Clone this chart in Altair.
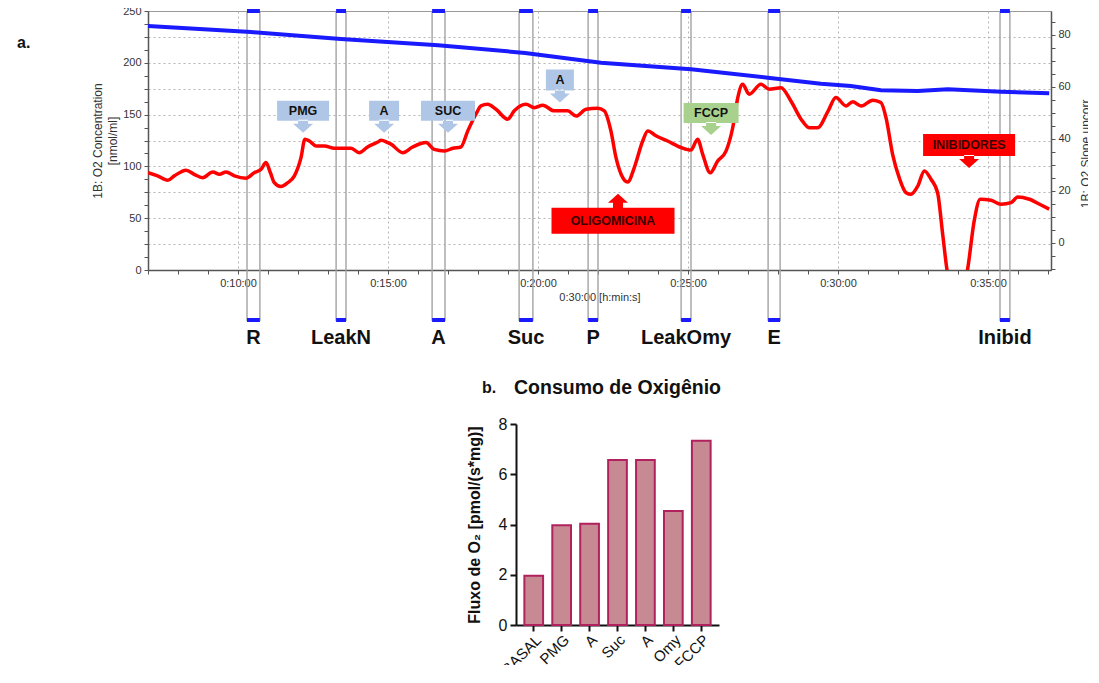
import altair as alt
import pandas as pd

# ---------------- data (panel a) ----------------
# O2 slope trace (red, right axis) : time in minutes, value in pmol/(s*ml)
red_t = [7.0, 7.32, 7.66, 7.88, 8.27, 8.54, 8.82, 9.16, 9.38, 9.6, 9.88, 10.27, 10.54, 10.77,
         10.93, 11.08, 11.21, 11.43, 11.66, 11.88, 12.1, 12.23, 12.38, 12.6, 12.88, 13.21, 13.77,
         14.04, 14.32, 14.66, 14.77, 14.99, 15.1, 15.49, 15.82, 16.27, 16.54, 16.88, 17.16, 17.43,
         17.66, 17.93, 18.1, 18.32, 18.6, 18.99, 19.21, 19.6, 19.88, 20.16, 20.54, 20.99, 21.27,
         21.6, 21.99, 22.21, 22.43, 22.6, 22.77, 22.99, 23.21, 23.49, 23.66, 23.93, 24.32, 24.77,
         25.1, 25.32, 25.49, 25.74, 25.99, 26.27, 26.49, 26.66, 26.82, 27.04, 27.43, 27.71, 28.1,
         28.43, 28.77, 29.04, 29.32, 29.66, 29.93, 30.27, 30.49, 30.77, 31.16, 31.43, 31.6, 31.82,
         32.04, 32.27, 32.43, 32.66, 32.88, 33.1, 33.32, 33.49, 33.63, 33.77, 33.97, 34.17, 34.32,
         34.54, 34.74, 35.1, 35.43, 35.77, 35.99, 36.38, 36.77, 37.04]
red_v = [27.0, 25.8, 24.1, 25.8, 28.0, 26.4, 25.1, 27.3, 26.4, 27.3, 25.8, 24.9, 27.0, 28.3,
         30.9, 27.0, 23.2, 21.7, 23.2, 25.8, 32.8, 39.9, 39.2, 37.3, 37.3, 36.4, 36.4,
         34.7, 36.9, 38.8, 39.5, 38.6, 38.0, 34.7, 36.9, 38.6, 36.0, 35.4, 36.4, 36.9,
         43.1, 49.5, 52.7, 53.3, 51.4, 47.6, 50.8, 53.3, 52.0, 53.0, 50.8, 50.8, 48.8,
         51.4, 51.8, 50.8, 43.1, 32.8, 26.4, 23.4, 29.0, 39.2, 43.1, 41.2, 39.2, 36.7,
         35.7, 39.9, 34.1, 27.0, 31.5, 35.4, 44.3, 55.9, 61.0, 57.2, 61.0, 59.1, 59.7,
         54.6, 47.6, 44.3, 44.3, 50.5, 55.9, 52.7, 54.3, 52.7, 54.9, 54.0, 48.2, 34.1,
         25.1, 19.3, 18.7, 21.9, 27.7, 24.5, 19.3, 3.3, -10.1, -18.0, -22.0, -18.0, -10.1,
         8.5, 16.8, 16.4, 14.9, 15.5, 17.7, 16.8, 14.6, 13.0]

# O2 concentration trace (blue, left axis) : nmol/ml
blue_t = [7.0, 10.43, 13.43, 16.67, 19.57, 22.1, 25.1, 27.66, 29.43, 30.43, 31.43, 32.66, 33.66, 35.43, 37.04]
blue_v = [235.5, 229.7, 223.0, 217.0, 209.5, 200.1, 193.7, 185.6, 179.8, 177.5, 173.5, 172.8, 174.4, 172.1, 170.6]

# event marks (start / end, minutes)
event_labels = ["R", "LeakN", "A", "Suc", "P", "LeakOmy", "E", "Inibid"]
event_start = [10.30, 13.27, 16.47, 19.37, 21.67, 24.77, 27.67, 35.40]
event_end = [10.73, 13.60, 16.90, 19.83, 22.00, 25.10, 28.07, 35.73]

# titration annotations (anchor: time, slope value)
annot_labels = ["PMG", "A", "SUC", "A", "FCCP", "OLIGOMICINA", "INIBIDORES"]
annot_t = [12.17, 14.87, 17.0, 20.73, 25.77, 22.5, 34.37]
annot_v = [50.8, 50.8, 50.8, 62.7, 50.0, 8.5, 37.7]

# ---------------- data (panel b) ----------------
bar_labels = ["BASAL", "PMG", "A", "Suc", "A", "Omy", "FCCP"]
bar_values = [1.96, 3.97, 4.03, 6.57, 6.57, 4.54, 7.33]

# ---------------- styles ----------------
annot_style = [  # (box w, box h, arrow, fill, text colour)
    (52, 20, "down", "#b0c6e6", "#111111"),
    (30, 20, "down", "#b0c6e6", "#111111"),
    (54, 20, "down", "#b0c6e6", "#111111"),
    (28, 21, "down", "#b0c6e6", "#111111"),
    (55, 20, "down", "#a9d18e", "#111111"),
    (123, 26, "up", "#ff0000", "#3a0000"),
    (92, 22, "down", "#ff0000", "#3a0000"),
]


def callout_path(w, h, arrow):
    hw, hh = w / 2, h / 2
    p = f"M{-hw},{-hh}H{hw}V{hh}H{-hw}Z"
    if arrow == "down":
        p += f"M-5,{hh - 1}V{hh + 3}H-10L0,{hh + 12}L10,{hh + 3}H5V{hh - 1}Z"
    else:
        p += f"M0,{-hh + 1}V{-hh - 5}H-5L5,{-hh - 14}L15,{-hh - 5}H10V{-hh + 1}Z"
    return p


FONT = "Liberation Sans"

df_red = pd.DataFrame({"t": red_t, "v": red_v})
df_blue = pd.DataFrame({"t": blue_t, "v": blue_v})
df_ev_lines = pd.DataFrame({"t": event_start + event_end})
df_ev = pd.DataFrame({"t": event_start, "t2": event_end})
df_ev_lab = pd.DataFrame({"t": [(a + b) / 2 for a, b in zip(event_start, event_end)],
                          "label": event_labels})
df_ann = pd.DataFrame({
    "t": annot_t, "v": annot_v, "label": annot_labels,
    "path": [callout_path(s[0], s[1], s[2]) for s in annot_style],
    "fill": [s[3] for s in annot_style],
    "tcolor": [s[4] for s in annot_style],
})

xs = alt.Scale(domain=[7, 37.1], nice=False, zero=False)
x_axis = alt.Axis(
    values=list(range(7, 38)),
    labelExpr="datum.value % 5 === 0 ? '0:' + (datum.value < 10 ? '0' : '') + datum.value + ':00' : ''",
    labelOverlap=False,
    title="0:30:00 [h:min:s]", titleFontSize=11, titleFontWeight="normal", titleColor="#333",
    titlePadding=3,
    labelFontSize=11, labelColor="#333", labelPadding=3,
    tickSize=4, tickColor="#555", domainColor="#555", domainWidth=1.5,
    grid=True, gridColor="#b5b5b5", gridDash=[2, 3],
    gridOpacity={"condition": {"test": "datum.value % 5 === 0", "value": 1}, "value": 0},
)
X = alt.X("t:Q", scale=xs, axis=x_axis)

yl_scale = alt.Scale(domain=[0, 250], nice=False, zero=False)
yl_axis = alt.Axis(
    orient="left", values=[i * 12.5 for i in range(21)],
    labelExpr="datum.value % 50 === 0 ? datum.label : ''", labelOverlap=False,
    title=["1B: O2 Concentration", "[nmol/ml]"], titleFontSize=12, titleFontWeight="normal",
    titleColor="#333", titlePadding=3, titleLineHeight=15,
    labelFontSize=11, labelColor="#333", labelPadding=3,
    tickSize=4, tickColor="#555", domainColor="#555", domainWidth=1.5,
    grid=True, gridColor="#b5b5b5", gridDash=[2, 3],
    gridOpacity={"condition": {"test": "datum.value % 25 === 0 && datum.value > 0 && datum.value < 250",
                               "value": 1}, "value": 0},
)
yr_scale = alt.Scale(domain=[-10.4, 89.2], nice=False, zero=False)
yr_axis = alt.Axis(
    orient="right", values=list(range(-10, 90, 5)),
    labelExpr="datum.value % 20 === 0 ? datum.label : ''", labelOverlap=False,
    title=["1B: O2 Slope uncorr.", "[pmol/(s*ml)]"], titleFontSize=12, titleFontWeight="normal",
    titleColor="#333", titleAngle=270, titleBaseline="top", titleLineHeight=15,
    titleX=29, titleY=141,
    labelFontSize=11, labelColor="#333", labelPadding=3,
    tickSize=4, tickColor="#555", domainColor="#555", domainWidth=1.5, grid=False,
)

ev_lines = alt.Chart(df_ev_lines).mark_rule(color="#a3a3a3", strokeWidth=1.4).encode(
    x=X, y=alt.value(0), y2=alt.value(310))
ev_top = alt.Chart(df_ev).mark_rule(color="#1a1aff", strokeWidth=4).encode(
    x=X, x2="t2:Q", y=alt.value(0))
ev_bot = alt.Chart(df_ev).mark_rule(color="#1a1aff", strokeWidth=4).encode(
    x=X, x2="t2:Q", y=alt.value(309))
ev_text = alt.Chart(df_ev_lab).mark_text(font=FONT, fontWeight="bold", fontSize=20,
                                         color="#111", baseline="middle").encode(
    x=X, y=alt.value(327), text="label:N")
a_label = alt.Chart(pd.DataFrame({"s": ["a."]})).mark_text(
    font=FONT, fontWeight="bold", fontSize=16, align="left", baseline="middle", color="#111").encode(
    x=alt.value(-131), y=alt.value(32), text="s:N")

blue_line = alt.Chart(df_blue).mark_line(color="#1a1aff", strokeWidth=4).encode(
    x=X, y=alt.Y("v:Q", scale=yl_scale, axis=yl_axis))

YR = alt.Y("v:Q", scale=yr_scale, axis=yr_axis)
red_line = alt.Chart(df_red).mark_line(color="#ff0000", strokeWidth=3.5, clip=True,
                                       interpolate="monotone").encode(x=X, y=YR)
ann_box = alt.Chart(df_ann).mark_point(filled=True, opacity=1, size=4, strokeWidth=0).encode(
    x=X, y=YR, shape=alt.Shape("path:N", scale=None), fill=alt.Fill("fill:N", scale=None))
ann_txt = alt.Chart(df_ann).mark_text(font=FONT, fontWeight="bold", fontSize=12.5,
                                      baseline="middle").encode(
    x=X, y=YR, text="label:N", color=alt.Color("tcolor:N", scale=None))
red_group = alt.layer(red_line, ann_box, ann_txt)

chart_a = alt.layer(ev_lines, ev_top, ev_bot, ev_text, a_label, blue_line, red_group).resolve_scale(
    y="independent").properties(width=903, height=259,
                                view=alt.ViewBackground(stroke="#9a9a9a", strokeWidth=1))

# ---------------- panel b ----------------
b_keys = [f"{l}|{i}" for i, l in enumerate(bar_labels)]
df_b = pd.DataFrame({"key": b_keys, "value": bar_values})
bars = alt.Chart(df_b).mark_bar(fill="#c88a92", stroke="#b0215e", strokeWidth=2).encode(
    x=alt.X("key:N", sort=b_keys, scale=alt.Scale(paddingInner=0.33, paddingOuter=0.3),
            axis=alt.Axis(title=None, labelAngle=-45, labelExpr="split(datum.value, '|')[0]",
                          labelFontSize=15, labelColor="#111", labelPadding=1,
                          domainColor="#111", domainWidth=2, tickColor="#111", tickWidth=2, tickSize=6)),
    y=alt.Y("value:Q", scale=alt.Scale(domain=[0, 8], nice=False),
            axis=alt.Axis(values=[0, 2, 4, 6, 8], title="Fluxo de O₂ [pmol/(s*mg)]",
                          titleFontSize=16, titleFontWeight="bold", titleColor="#111", titlePadding=16,
                          labelFontSize=16, labelColor="#111", labelPadding=3,
                          domainColor="#111", domainWidth=2, tickColor="#111", tickWidth=2,
                          tickSize=6, grid=False)),
)
b_letter = alt.Chart(pd.DataFrame({"s": ["b."]})).mark_text(
    font=FONT, fontWeight="bold", fontSize=16, align="left", baseline="middle", color="#111").encode(
    x=alt.value(-34), y=alt.value(-36), text="s:N")
b_title = alt.Chart(pd.DataFrame({"s": ["Consumo de Oxigênio"]})).mark_text(
    font=FONT, fontWeight="bold", fontSize=19.5, align="center", baseline="middle", color="#111").encode(
    x=alt.value(101.5), y=alt.value(-36), text="s:N")
# invisible anchor fixing panel b's left extent
b_anchor = alt.Chart(pd.DataFrame({"s": ["."]})).mark_text(
    fontSize=4, align="left", baseline="middle", opacity=0).encode(
    x=alt.value(-62), y=alt.value(0), text="s:N")
chart_b = alt.layer(bars, b_letter, b_title, b_anchor).properties(width=203, height=201)

spacer = alt.Chart(pd.DataFrame({"s": [""]})).mark_text(opacity=0).encode(
    text="s:N", x=alt.value(0), y=alt.value(0)).properties(width=306, height=1)

chart = alt.vconcat(chart_a, alt.hconcat(spacer, chart_b, spacing=0), spacing=29).properties(
    padding={"left": 8, "top": -4, "right": -19, "bottom": -12}
).configure(font=FONT).configure_view(strokeWidth=0)

chart.save("out.html", embed_options={"renderer": "svg", "actions": False})
